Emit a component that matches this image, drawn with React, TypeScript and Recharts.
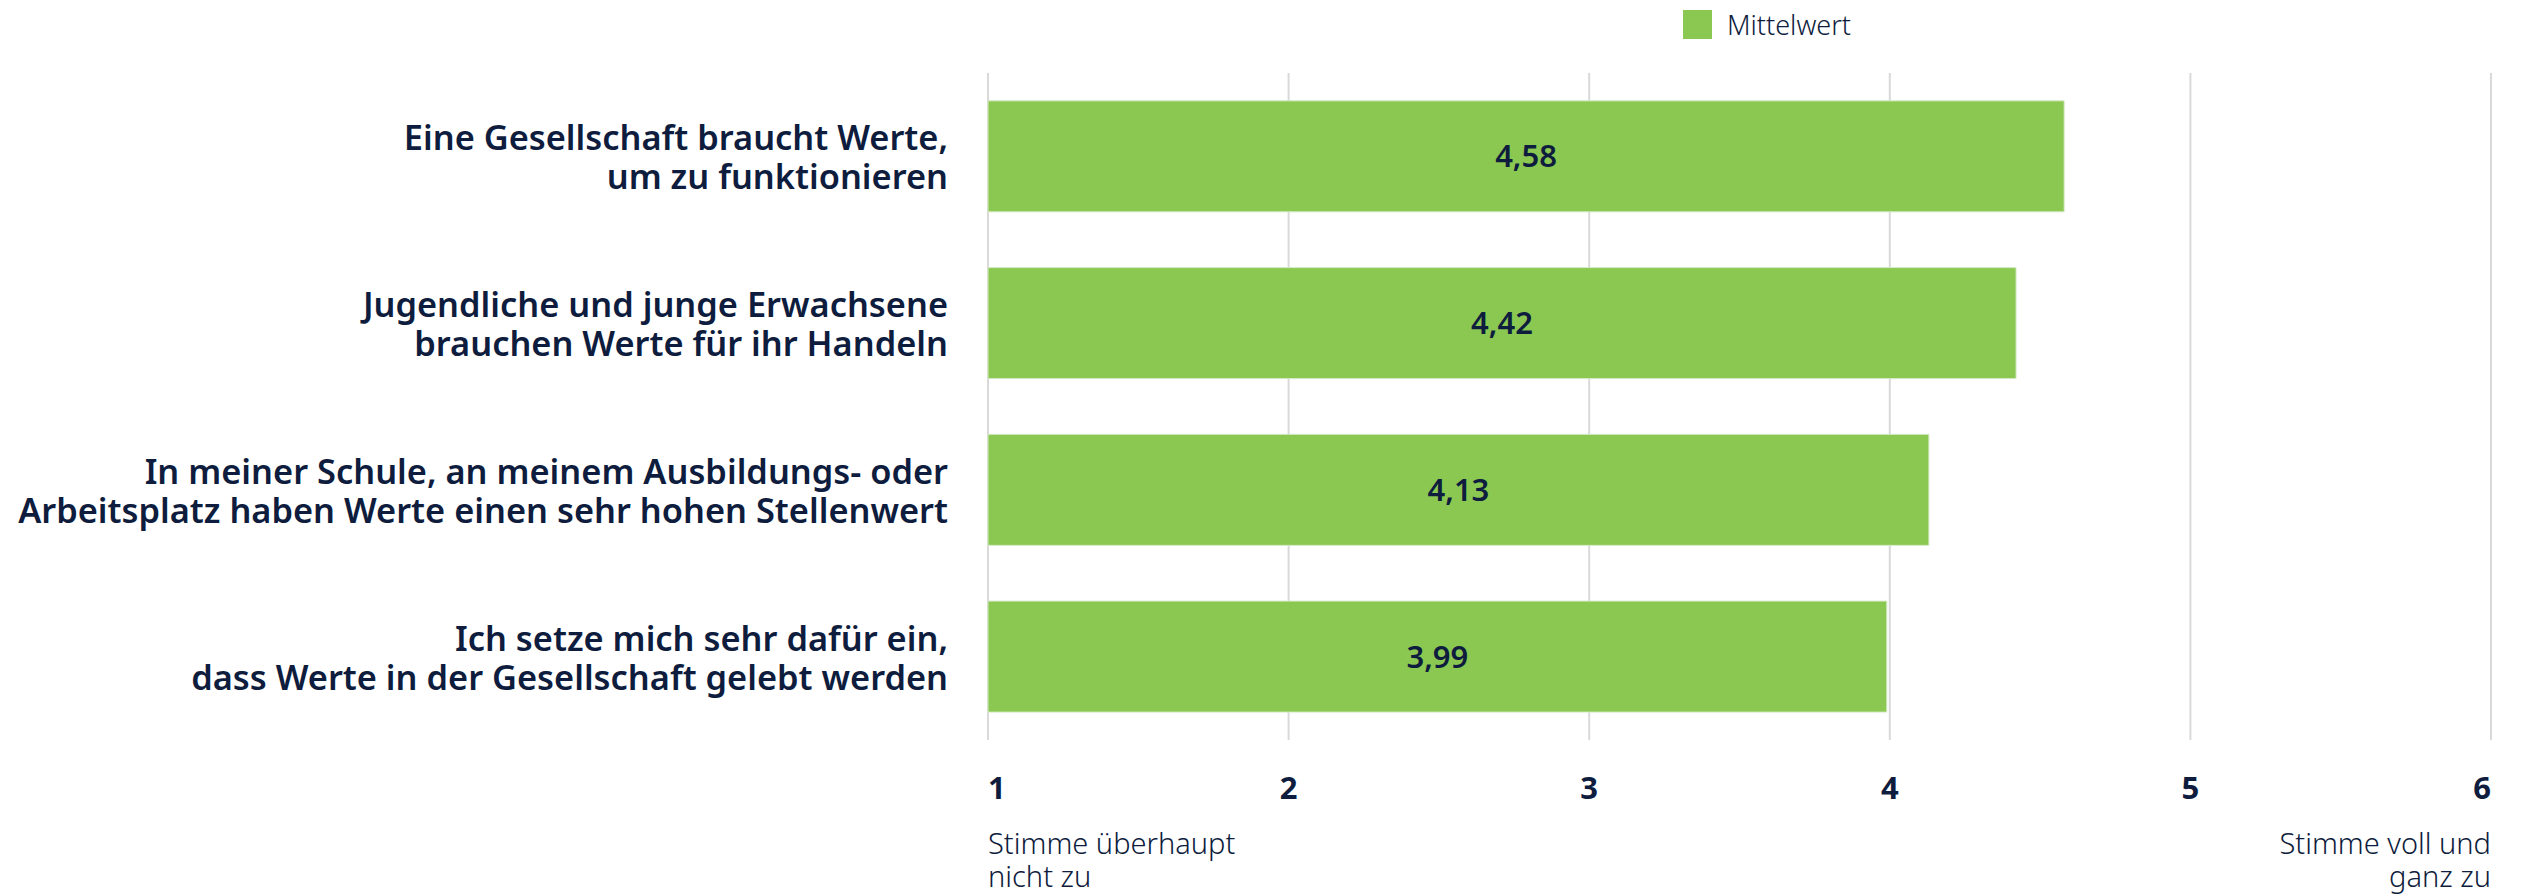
import React from 'react'
import { BarChart, Bar, XAxis, YAxis, CartesianGrid, Legend, LabelList } from 'recharts'

document.body.style.margin = '0'

const categories = [
  'Eine Gesellschaft braucht Werte,\num zu funktionieren',
  'Jugendliche und junge Erwachsene\nbrauchen Werte für ihr Handeln',
  'In meiner Schule, an meinem Ausbildungs- oder\nArbeitsplatz haben Werte einen sehr hohen Stellenwert',
  'Ich setze mich sehr dafür ein,\ndass Werte in der Gesellschaft gelebt werden',
]
const mittelwert = [4.58, 4.42, 4.13, 3.99]
const xTicks = [1, 2, 3, 4, 5, 6]
const scaleLow = ['Stimme überhaupt', 'nicht zu']
const scaleHigh = ['Stimme voll und', 'ganz zu']

const data = categories.map((c, i) => ({ name: c, Mittelwert: mittelwert[i] }))

const FONT = '"Noto Sans", "Open Sans", sans-serif'
const TEXT = '#0e1c3d'
const GREEN = '#8BC852'

function CategoryTick({ x, y, payload }: any) {
  const lines = String(payload.value).split('\n')
  return (
    <text x={x} y={y} textAnchor="end" fill={TEXT} fontFamily={FONT} fontSize={34.4} fontWeight={600}>
      {lines.map((l, i) => (
        <tspan key={i} x={x} y={y - 6 + i * 39}>{l}</tspan>
      ))}
    </text>
  )
}

function ScaleTick({ x, y, payload }: any) {
  const v = payload.value
  const anchor = v === 1 ? 'start' : v === 6 ? 'end' : 'middle'
  const extra = v === 1 ? scaleLow : v === 6 ? scaleHigh : null
  return (
    <g>
      <text x={x} y={y + 59} textAnchor={anchor} fill={TEXT} fontFamily={FONT} fontSize={31} fontWeight={700}>
        {v}
      </text>
      {extra && (
        <text x={x} y={y + 114} textAnchor={anchor} fill={TEXT} fontFamily={FONT} fontSize={29} fontWeight={300}>
          {extra.map((l, i) => (
            <tspan key={i} x={x} y={y + 114 + i * 33}>{l}</tspan>
          ))}
        </text>
      )}
    </g>
  )
}

function LegendContent() {
  return (
    <div style={{ display: 'flex', alignItems: 'center', fontFamily: FONT, fontSize: 27, fontWeight: 300, color: TEXT }}>
      <span style={{ display: 'inline-block', width: 29, height: 29, background: GREEN, marginRight: 15 }} />
      Mittelwert
    </div>
  )
}

export default function App() {
  return (
    <BarChart
      width={2524}
      height={895}
      data={data}
      layout="vertical"
      margin={{ top: 73, right: 33, bottom: 0, left: 0 }}
      barCategoryGap="16.7%"
    >
      <CartesianGrid horizontal={false} stroke="#d9d9d9" strokeWidth={2} />
      <XAxis
        type="number"
        domain={[1, 6]}
        ticks={xTicks}
        axisLine={false}
        tickLine={false}
        tickSize={0}
        tickMargin={0}
        height={155}
        tick={<ScaleTick />}
        interval={0}
      />
      <YAxis
        type="category"
        dataKey="name"
        width={988}
        axisLine={false}
        tickLine={false}
        tickSize={0}
        tickMargin={40}
        tick={<CategoryTick />}
        interval={0}
      />
      <Legend
        layout="horizontal"
        verticalAlign="middle"
        align="center"
        content={<LegendContent />}
        wrapperStyle={{ top: 6, left: 1683, width: 'auto' }}
      />
      <Bar dataKey="Mittelwert" fill={GREEN} stroke="#d6e9c6" strokeWidth={1} isAnimationActive={false}>
        <LabelList
          dataKey="Mittelwert"
          position="center"
          formatter={(v: any) => String(v.toFixed(2)).replace('.', ',')}
          fill={TEXT}
          stroke="none"
          fontFamily={FONT}
          fontSize={31}
          fontWeight={600}
        />
      </Bar>
    </BarChart>
  )
}
